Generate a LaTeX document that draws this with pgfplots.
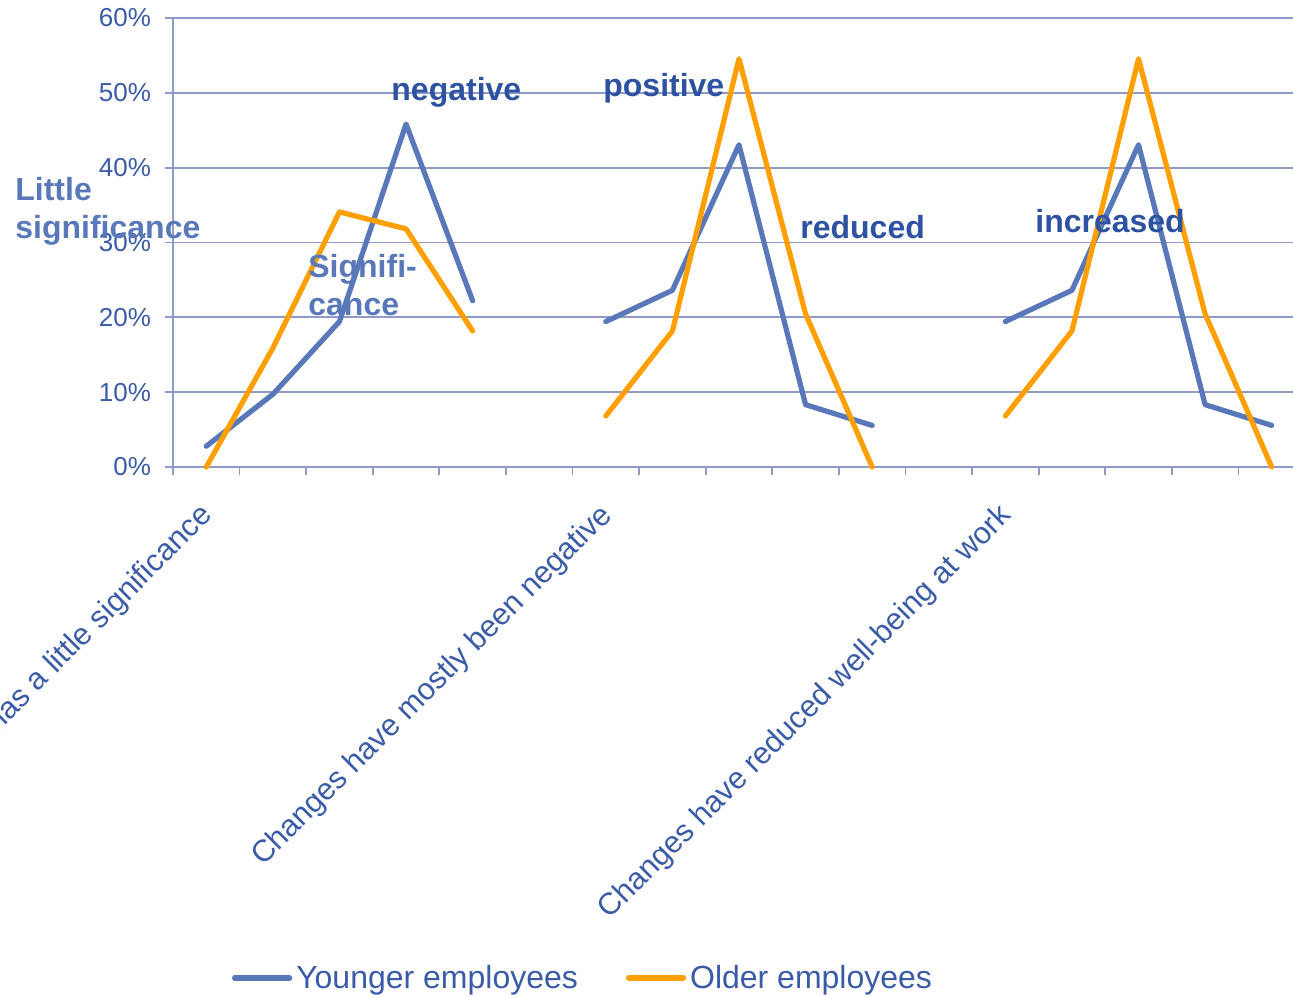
\documentclass[border=0pt]{standalone}
\usepackage{pgfplots}
\usepackage{pgfplotstable}
\pgfplotsset{compat=1.18}
\usepackage{fontspec}
\setmainfont{Liberation Sans}

\definecolor{youngblue}{HTML}{5878B9}
\definecolor{oldorange}{HTML}{FF9F00}
\definecolor{gridblue}{HTML}{8E9BC9}
\definecolor{labelblue}{HTML}{3A5BA8}
\definecolor{notedark}{HTML}{2D52A1}

% Share of answers (%) per response category; nan separates the three questions
\pgfplotstableread{
idx young old
0  2.78  0.00
1  9.72  15.91
2  19.44 34.09
3  45.83 31.82
4  22.22 18.18
5  nan   nan
6  19.44 6.82
7  23.61 18.18
8  43.06 54.55
9  8.33  20.45
10 5.56  0.00
11 nan   nan
12 19.44 6.82
13 23.61 18.18
14 43.06 54.55
15 8.33  20.45
16 5.56  0.00
}\agedata

\begin{document}
\begin{tikzpicture}
\begin{axis}[
  scale only axis,
  width=560pt, height=224.5pt,
  xmin=-0.5, xmax=16.32,
  ymin=0, ymax=60,
  clip=false,
  unbounded coords=jump,
  axis x line*=bottom,
  axis y line*=left,
  axis line style={draw=gridblue, line width=0.9pt, -},
  ymajorgrids,
  grid style={draw=gridblue, line width=0.9pt},
  tick align=outside,
  major tick length=4pt,
  tick style={draw=gridblue, line width=0.9pt},
  xtick={-0.5,0.5,...,15.5},
  xticklabels={},
  ytick={0,10,...,60},
  yticklabel={\pgfmathprintnumber{\tick}\%},
  /pgf/number format/assume math mode=true,
  yticklabel style={font=\fontsize{13}{15}\selectfont, text=labelblue, xshift=-3.5pt},
  extra x ticks={0,6,12},
  extra x tick labels={Change has a little significance,
                       Changes have mostly been negative,
                       Changes have reduced well-being at work},
  extra x tick style={
    major tick length=0pt,
    xticklabel style={font=\fontsize{15.3}{18}\selectfont, text=labelblue,
      xshift=1pt, yshift=-22pt, rotate=45, anchor=east, inner sep=0pt}},
  legend columns=2,
  legend style={at={(0.367,-1.138)}, anchor=center, draw=none, fill=none,
    font=\fontsize{16}{19}\selectfont, text=labelblue,
    /tikz/every even column/.append style={column sep=22pt},
    /tikz/every odd column/.append style={column sep=0pt}},
  legend image code/.code={\draw[#1] (0pt,0pt) -- (27.5pt,0pt);},
  every axis plot/.append style={line width=2.6pt, line join=round, line cap=round},
]
\addplot[youngblue] table[x=idx, y=young] {\agedata};
\addlegendentry{Younger employees}
\addplot[oldorange] table[x=idx, y=old] {\agedata};
\addlegendentry{Older employees}

\coordinate (bl) at (rel axis cs:0,0);

% scale annotations
\begin{scope}[every node/.style={inner sep=0pt, anchor=base west,
    font=\fontsize{16}{19}\selectfont\bfseries}]
  \node[text=youngblue] at (axis cs:-2.873,35.68) {Little};
  \node[text=youngblue] at (axis cs:-2.873,30.47) {significance};
  \node[text=youngblue] at (axis cs:1.527,25.39) {Signifi-};
  \node[text=youngblue] at (axis cs:1.527,20.31) {cance};
  \node[text=notedark] at (axis cs:2.774,49.04) {negative};
  \node[text=notedark] at (axis cs:5.957,49.45) {positive};
  \node[text=notedark] at (axis cs:8.916,30.60) {reduced};
  \node[text=notedark] at (axis cs:12.445,31.40) {increased};
\end{scope}
\end{axis}
\pgfresetboundingbox
\path ([shift={(-86.5pt,-265pt)}]bl) rectangle ([shift={(560pt,233.5pt)}]bl);
\end{tikzpicture}
\end{document}
